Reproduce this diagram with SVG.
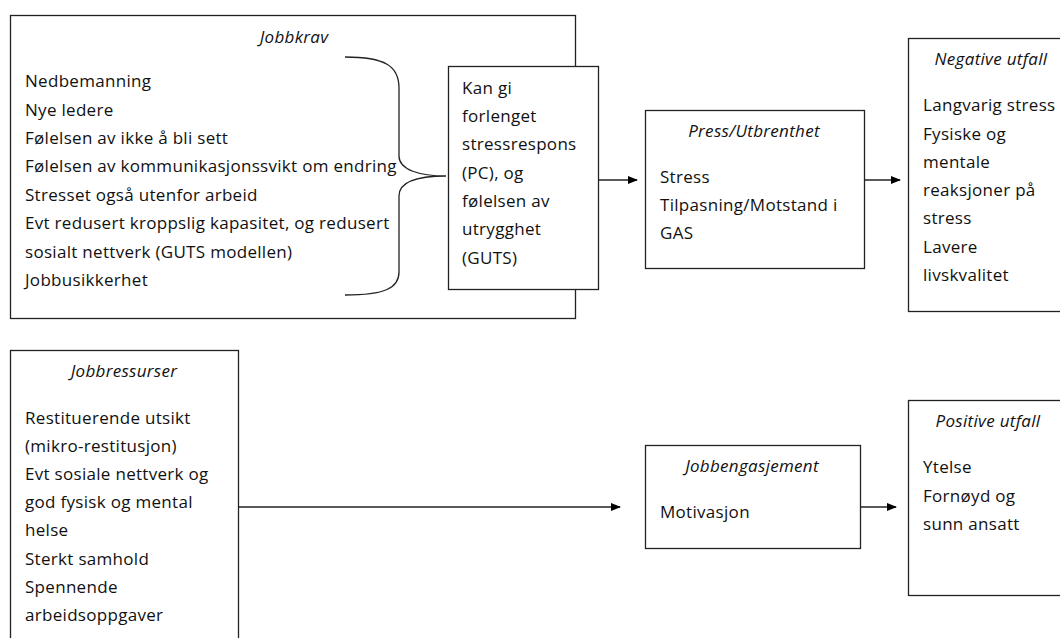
<svg xmlns="http://www.w3.org/2000/svg" width="1060" height="638" viewBox="0 0 1060 638">
<defs>
<marker id="ah" markerWidth="10" markerHeight="10" refX="9" refY="4" orient="auto" markerUnits="userSpaceOnUse">
<path d="M0,0 L10,4 L0,8 Z" fill="#000"/>
</marker>
<style>
.box{fill:#fff;stroke:#222;stroke-width:1.3}
.t{font-family:"Open Sans","Liberation Sans",sans-serif;font-size:17px;letter-spacing:0.3px;fill:#111}
.h{font-style:italic;text-anchor:middle}
.c{stroke:#222;stroke-width:1.3;fill:none}
</style>
</defs>
<rect width="1060" height="638" fill="#fff"/>
<g id="jobbkrav">
<rect class="box" x="10.5" y="15.5" width="565" height="303"/>
<text class="t h" x="294" y="43">Jobbkrav</text>
<text class="t" x="25" y="87">Nedbemanning</text>
<text class="t" x="25" y="116">Nye ledere</text>
<text class="t" x="25" y="144">Følelsen av ikke å bli sett</text>
<text class="t" x="25" y="172">Følelsen av kommunikasjonssvikt om endring</text>
<text class="t" x="25" y="201">Stresset også utenfor arbeid</text>
<text class="t" x="25" y="229">Evt redusert kroppslig kapasitet, og redusert</text>
<text class="t" x="25" y="258">sosialt nettverk (GUTS modellen)</text>
<text class="t" x="25" y="286">Jobbusikkerhet</text>
</g>
<g id="connectors">
<path class="c" d="M345,57 C385,57 399,66 399,88 L399,156 C399,170 420,176 446,176 C420,176 399,181 399,196 L399,272 C399,288 385,295 345,295"/>
<line class="c" x1="598" y1="180" x2="637" y2="180" marker-end="url(#ah)"/>
<line class="c" x1="864" y1="180" x2="900" y2="180" marker-end="url(#ah)"/>
<line class="c" x1="238" y1="507" x2="620" y2="507" marker-end="url(#ah)"/>
<line class="c" x1="858" y1="507" x2="896" y2="507" marker-end="url(#ah)"/>
</g>
<g id="kangi">
<rect class="box" x="448.5" y="66.5" width="150" height="223"/>
<text class="t" x="462" y="94">Kan gi</text>
<text class="t" x="462" y="122">forlenget</text>
<text class="t" x="462" y="150">stressrespons</text>
<text class="t" x="462" y="179">(PC), og</text>
<text class="t" x="462" y="207">følelsen av</text>
<text class="t" x="462" y="235">utrygghet</text>
<text class="t" x="462" y="264">(GUTS)</text>
</g>
<g id="press">
<rect class="box" x="645.5" y="110.5" width="219" height="158"/>
<text class="t h" x="754" y="137">Press/Utbrenthet</text>
<text class="t" x="660" y="183">Stress</text>
<text class="t" x="660" y="211">Tilpasning/Motstand i</text>
<text class="t" x="660" y="239">GAS</text>
</g>
<g id="negative">
<rect class="box" x="908.5" y="38.5" width="160" height="273"/>
<text class="t h" x="991" y="65">Negative utfall</text>
<text class="t" x="923" y="111">Langvarig stress</text>
<text class="t" x="923" y="140">Fysiske og</text>
<text class="t" x="923" y="168">mentale</text>
<text class="t" x="923" y="196">reaksjoner på</text>
<text class="t" x="923" y="224">stress</text>
<text class="t" x="923" y="253">Lavere</text>
<text class="t" x="923" y="281">livskvalitet</text>
</g>
<g id="jobbressurser">
<rect class="box" x="10.5" y="350.5" width="228" height="300"/>
<text class="t h" x="124" y="377">Jobbressurser</text>
<text class="t" x="25" y="424">Restituerende utsikt</text>
<text class="t" x="25" y="452">(mikro-restitusjon)</text>
<text class="t" x="25" y="480">Evt sosiale nettverk og</text>
<text class="t" x="25" y="508">god fysisk og mental</text>
<text class="t" x="25" y="536">helse</text>
<text class="t" x="25" y="565">Sterkt samhold</text>
<text class="t" x="25" y="593">Spennende</text>
<text class="t" x="25" y="621">arbeidsoppgaver</text>
</g>
<g id="jobbengasjement">
<rect class="box" x="645.5" y="445.5" width="215" height="103"/>
<text class="t h" x="752" y="472">Jobbengasjement</text>
<text class="t" x="660" y="518">Motivasjon</text>
</g>
<g id="positive">
<rect class="box" x="908.5" y="400.5" width="160" height="195"/>
<text class="t h" x="988" y="427">Positive utfall</text>
<text class="t" x="923" y="473">Ytelse</text>
<text class="t" x="923" y="502">Fornøyd og</text>
<text class="t" x="923" y="530">sunn ansatt</text>
</g>
</svg>
